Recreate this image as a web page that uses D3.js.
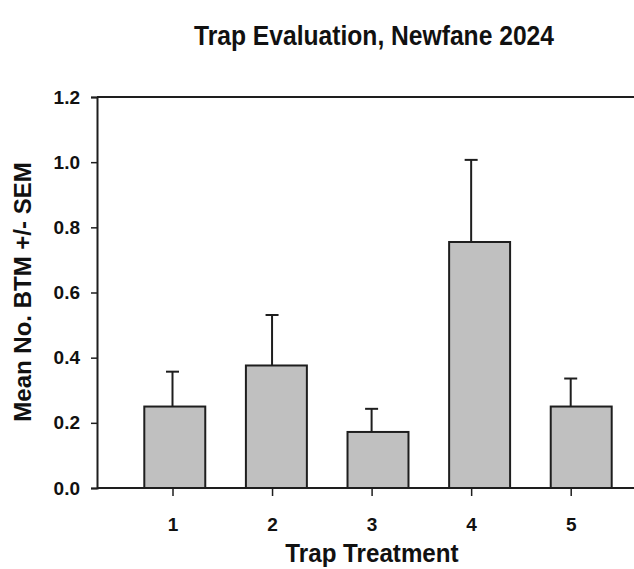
<!DOCTYPE html>
<html>
<head>
<meta charset="utf-8">
<script src="https://cdn.jsdelivr.net/npm/d3@7"></script>
<style>
  body { margin: 0; background: #fff; }
  svg { display: block; }
  .lbl { font-family: "Liberation Sans", Arial, sans-serif; font-weight: bold; }
</style>
</head>
<body>
<script>
// data
var treatments = ['1', '2', '3', '4', '5'];
var means = [0.25, 0.376, 0.172, 0.755, 0.25];
var sems  = [0.107, 0.155, 0.071, 0.252, 0.086];
var yTicks = [0, 0.2, 0.4, 0.6, 0.8, 1.0, 1.2];

var WIDTH = 634, HEIGHT = 569;
var plotLeft = 97, plotTop = 97, plotBottom = 488;
var INK = '#1e1e1e';

var svg = d3.select('body').append('svg')
  .attr('width', WIDTH)
  .attr('height', HEIGHT);

var y = d3.scaleLinear().domain([0, 1.2]).range([plotBottom, plotTop]);

// tick / error bar positions
var x = d3.scalePoint().domain(treatments).range([172.5, 570.7]);

// bars sit a little off the ticks, as in the original
var xBar = d3.scaleBand().domain(treatments).range([144.3, 611.7])
  .paddingInner(0.4).paddingOuter(0);

var rows = treatments.map(function(t, i){ return {t: t, m: means[i], s: sems[i]}; });

// bars
svg.selectAll('rect.bar')
  .data(rows)
  .enter()
  .append('rect')
  .attr('class', 'bar')
  .attr('x', function(d){ return xBar(d.t); })
  .attr('width', xBar.bandwidth())
  .attr('y', function(d){ return y(d.m); })
  .attr('height', function(d){ return y(0) - y(d.m); })
  .attr('fill', '#c0c0c0')
  .attr('stroke', INK)
  .attr('stroke-width', 2);

// error bars (upper only)
var err = svg.selectAll('g.err')
  .data(rows)
  .enter()
  .append('g')
  .attr('class', 'err')
  .attr('stroke', INK)
  .attr('stroke-width', 2);

err.append('line')
  .attr('x1', function(d){ return x(d.t); })
  .attr('x2', function(d){ return x(d.t); })
  .attr('y1', function(d){ return y(d.m); })
  .attr('y2', function(d){ return y(d.m + d.s); });

err.append('line')
  .attr('x1', function(d){ return x(d.t) - 6.5; })
  .attr('x2', function(d){ return x(d.t) + 6.5; })
  .attr('y1', function(d){ return y(d.m + d.s); })
  .attr('y2', function(d){ return y(d.m + d.s); });

// frame: top and bottom run off the right edge
svg.append('line')
  .attr('x1', plotLeft).attr('x2', WIDTH)
  .attr('y1', plotTop).attr('y2', plotTop)
  .attr('stroke', INK).attr('stroke-width', 2);

svg.append('line')
  .attr('x1', plotLeft).attr('x2', WIDTH)
  .attr('y1', plotBottom).attr('y2', plotBottom)
  .attr('stroke', INK).attr('stroke-width', 2);

// y axis
var yAxis = svg.append('g')
  .attr('transform', 'translate(' + plotLeft + ',0)')
  .call(d3.axisLeft(y).tickValues(yTicks).tickFormat(d3.format('.1f'))
        .tickSize(6).tickPadding(11));
yAxis.select('.domain').attr('stroke', INK).attr('stroke-width', 2);
yAxis.selectAll('.tick line').attr('stroke', INK).attr('stroke-width', 1.5);
yAxis.selectAll('.tick text')
  .attr('class', 'lbl')
  .attr('font-size', 19)
  .attr('fill', '#111');

// x axis
var xAxis = svg.append('g')
  .attr('transform', 'translate(0,' + plotBottom + ')')
  .call(d3.axisBottom(x).tickSize(8).tickPadding(22));
xAxis.select('.domain').remove();
xAxis.selectAll('.tick line').attr('stroke', INK).attr('stroke-width', 1.5);
xAxis.selectAll('.tick text')
  .attr('class', 'lbl')
  .attr('font-size', 19)
  .attr('fill', '#111');

// titles (condensed look like the original)
svg.append('text')
  .attr('class', 'lbl')
  .attr('transform', 'translate(374,45) scale(0.88,1)')
  .attr('text-anchor', 'middle')
  .attr('font-size', 28)
  .attr('fill', '#111')
  .text('Trap Evaluation, Newfane 2024');

svg.append('text')
  .attr('class', 'lbl')
  .attr('transform', 'translate(372,562) scale(0.93,1)')
  .attr('text-anchor', 'middle')
  .attr('font-size', 26)
  .attr('fill', '#111')
  .text('Trap Treatment');

svg.append('text')
  .attr('class', 'lbl')
  .attr('transform', 'translate(31,292) rotate(-90)')
  .attr('text-anchor', 'middle')
  .attr('font-size', 24)
  .attr('fill', '#111')
  .text('Mean No. BTM +/- SEM');
</script>
</body>
</html>
